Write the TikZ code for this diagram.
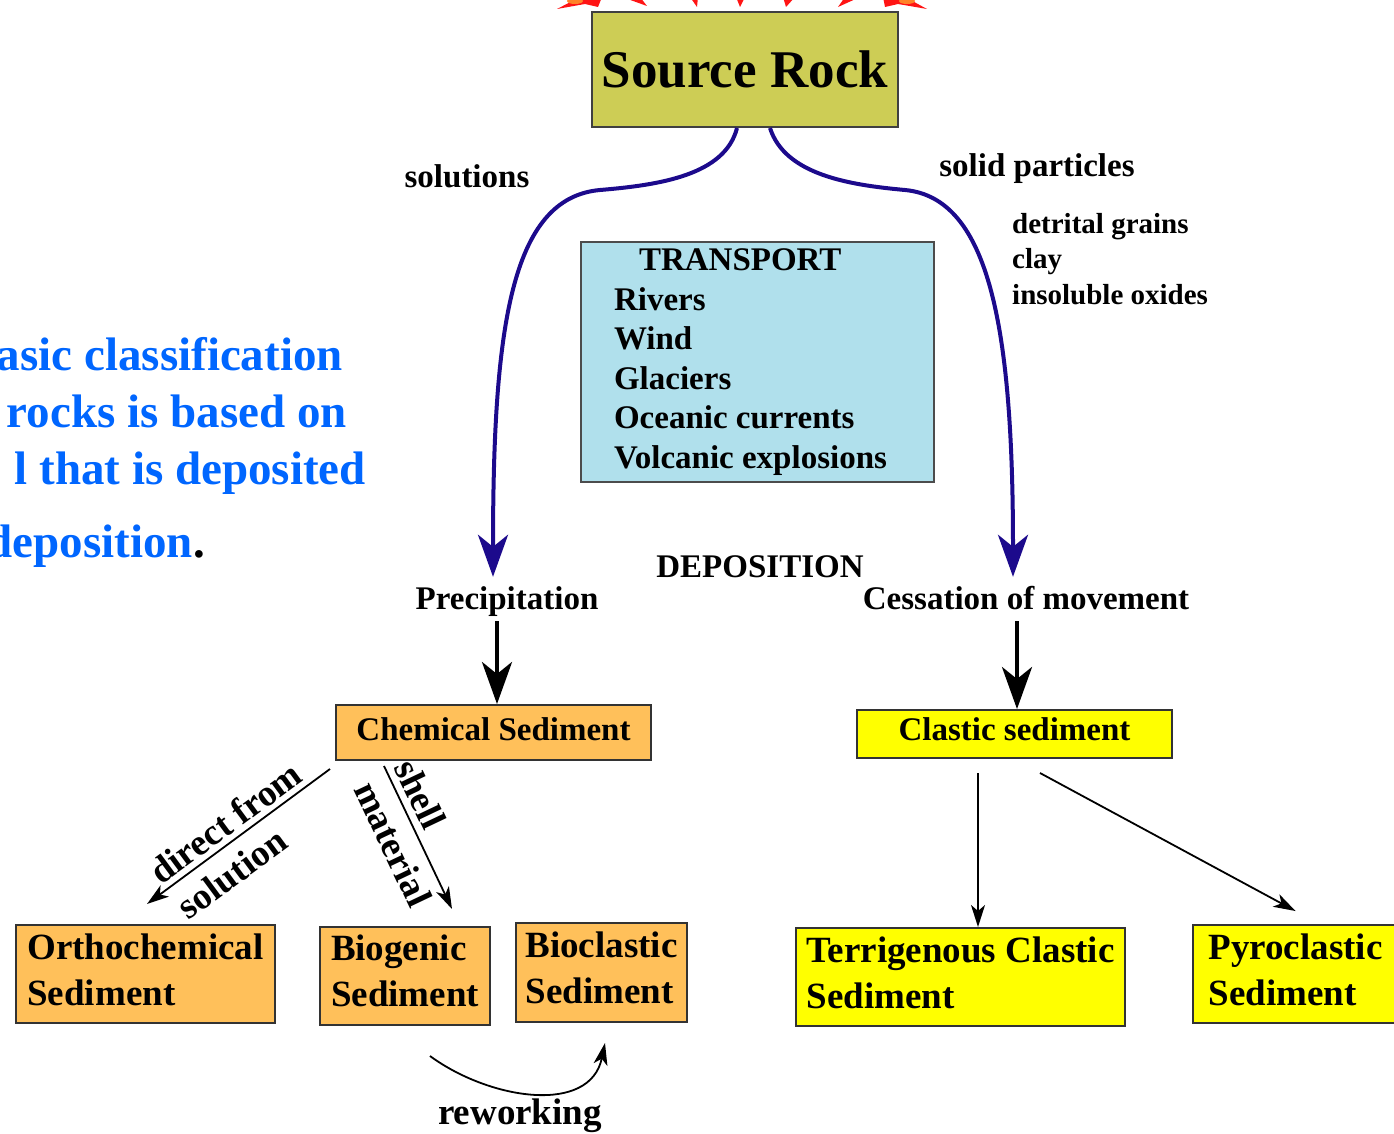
\documentclass[tikz,border=0pt]{standalone}
\usepackage{fontspec}
\setmainfont{Liberation Serif}
\usetikzlibrary{arrows.meta, positioning, shapes.geometric}

\definecolor{rockfill}{RGB}{205,205,85}
\definecolor{transfill}{RGB}{176,224,236}
\definecolor{chemfill}{RGB}{255,192,90}
\definecolor{clasfill}{RGB}{255,255,0}
\definecolor{flowblue}{RGB}{28,10,140}
\definecolor{noteblue}{RGB}{0,102,255}
\definecolor{burst}{RGB}{255,20,20}
\definecolor{burstcore}{RGB}{255,130,40}

\newcommand{\bsz}[2]{\fontsize{#1}{#2}\selectfont\bfseries}

\tikzset{
  box/.style={rectangle, draw=black!80, line width=2pt, inner sep=0pt, align=left},
  lbl/.style={inner sep=5pt, font=\bsz{33}{40}},
  tag/.style={font=\bsz{37}{44}},
  bigarr/.style={line width=4pt, -{Stealth[length=42pt, width=30pt, inset=12pt]}},
  thinarr/.style={line width=1.8pt, -{Stealth[length=22pt, width=14pt, inset=6pt]}}
}

\begin{document}
\begin{tikzpicture}[x=1pt, y=-1pt]
  \useasboundingbox (0,0) rectangle (1394,1134);

  % burst above the source rock
  \fill[burst] (557,9) -- (580,-3) -- (602,-3) -- (598,7) -- (585,4) -- cycle;
  \fill[burst] (927,9) -- (905,-3) -- (883,-3) -- (885,7) -- (898,4) -- cycle;
  \fill[burstcore] (575,1) ellipse (8 and 3);
  \fill[burstcore] (907,1) ellipse (8 and 3);
  \foreach \a/\b/\tx/\ty in {622/640/647/6, 690/698/697/7, 736/745/740/7,
                             783/795/786/7, 845/860/838/7}
    \fill[burst] (\a,-3) -- (\b,-3) -- (\tx,\ty) -- cycle;

  % boxes
  \node[box, draw=black!75, fill=rockfill, minimum width=306pt, minimum height=115pt,
        font=\bsz{53}{60}] (src) at (745,69.5) {Source Rock};
  \node[box, draw=black!70, line width=1.5pt, fill=transfill, minimum width=353pt,
        minimum height=240pt, font=\bsz{33}{39.5}] (trans) at (757.5,362)
        {\hspace*{25pt}TRANSPORT\\Rivers\\Wind\\Glaciers\\Oceanic currents\\Volcanic explosions\hspace*{14pt}};
  \node[box, fill=chemfill, minimum width=315pt, minimum height=55pt, text depth=6pt,
        font=\bsz{33}{40}] (chem) at (493.5,732.5) {Chemical Sediment};
  \node[box, fill=clasfill, minimum width=315pt, minimum height=48pt, text depth=10pt,
        font=\bsz{33}{40}] (clas) at (1014.5,734) {Clastic sediment};

  \node[box, fill=chemfill, minimum width=259pt, minimum height=98pt, text depth=8pt,
        font=\bsz{37}{46}] (ortho) at (145.5,974) {Orthochemical\\Sediment};
  \node[box, fill=chemfill, minimum width=170pt, minimum height=98pt, text depth=10pt,
        font=\bsz{37}{46}] (biog) at (405,976) {Biogenic\\Sediment};
  \node[box, fill=chemfill, minimum width=171pt, minimum height=99pt, text depth=10pt,
        font=\bsz{37}{46}] (biocl) at (601.5,972.5) {Bioclastic\\Sediment};
  \node[box, fill=clasfill, minimum width=329pt, minimum height=98pt, text depth=8pt,
        font=\bsz{37}{46}] (terr) at (960.5,977) {Terrigenous Clastic\\Sediment};
  \node[box, fill=clasfill, minimum width=205pt, minimum height=98pt, text depth=8pt,
        font=\bsz{37}{46}] (pyro) at (1295.5,974) {Pyroclastic\\Sediment};

  % labels
  \node[lbl] (soln) at (467,176) {solutions};
  \node[lbl] (solid) at (1037,169) {solid particles};
  \node[lbl, anchor=west, align=left, font=\bsz{29}{35.5}] (grains) at (1007,259)
        {detrital grains\\clay\\insoluble oxides};
  \node[lbl, anchor=base] (depo) at (760,577) {DEPOSITION};
  \node[lbl, anchor=base, text height=22pt, text depth=7pt] (prec) at (507,609) {Precipitation};
  \node[lbl, anchor=base, text height=22pt, text depth=7pt] (cess) at (1026,609) {Cessation of movement};

  % note on the left
  \node[anchor=base east, inner sep=0pt, text=noteblue, font=\bsz{47}{57}] (note1) at (343,370) {asic classification};
  \node[anchor=base east, inner sep=0pt, text=noteblue, font=\bsz{47}{57}] (note2) at (347,427) {rocks is based on};
  \node[anchor=base east, inner sep=0pt, text=noteblue, font=\bsz{47}{57}] (note3) at (366,484) {l that is deposited};
  \node[anchor=base east, inner sep=0pt, text=noteblue, font=\bsz{47}{57}] (note4) at (205,557) {deposition{\color{black}.}};

  % transport paths
  \draw[bigarr, flowblue] ([xshift=-8pt]src.south) .. controls (725,175) and (660,185) .. (600,190)
        .. controls (510,198) and (493,330) .. ([xshift=-14pt,yshift=5pt]prec.north);
  \draw[bigarr, flowblue] ([xshift=25pt]src.south) .. controls (785,175) and (850,185) .. (905,190)
        .. controls (990,198) and (1013,330) .. ([xshift=-13pt,yshift=5pt]cess.north);

  % deposition
  \coordinate (pa) at ([xshift=-10pt]prec.south);
  \draw[bigarr] (pa) -- (pa |- chem.north);
  \coordinate (ca) at ([xshift=-9pt]cess.south);
  \draw[bigarr] (ca) -- (ca |- clas.north);

  % chemical branch
  \draw[thinarr] ([xshift=-5pt,yshift=-8pt]chem.south west)
        -- node[sloped, above, pos=0.51, inner sep=5pt, tag] (dirl) {direct from}
           node[sloped, below, pos=0.62, inner sep=12pt, tag] (soll) {solution}
        ([xshift=1.5pt,yshift=20pt]ortho.north);
  \draw[thinarr] ([xshift=49pt,yshift=-5pt]chem.south west)
        -- node[sloped, above, pos=0.26, inner sep=7pt, tag] (shl) {shell}
           node[sloped, below, pos=0.47, inner sep=11pt, tag] (matl) {material}
        ([xshift=47pt,yshift=17pt]biog.north);
  \draw[thinarr] ([xshift=25pt,yshift=-30pt]biog.south) .. controls (490,1100) and (590,1115)
        .. ([xshift=3.5pt,yshift=-20pt]biocl.south);
  \node[tag, inner sep=0pt, anchor=base] (rework) at (520,1124) {reworking};

  % clastic branch
  \coordinate (tv) at ([xshift=17.5pt]terr.north);
  \draw[thinarr, shorten <=14pt] (tv |- clas.south) -- (tv);
  \draw[thinarr] ([xshift=25.5pt,yshift=-14pt]clas.south) -- ([yshift=13pt]pyro.north);
\end{tikzpicture}
\end{document}
